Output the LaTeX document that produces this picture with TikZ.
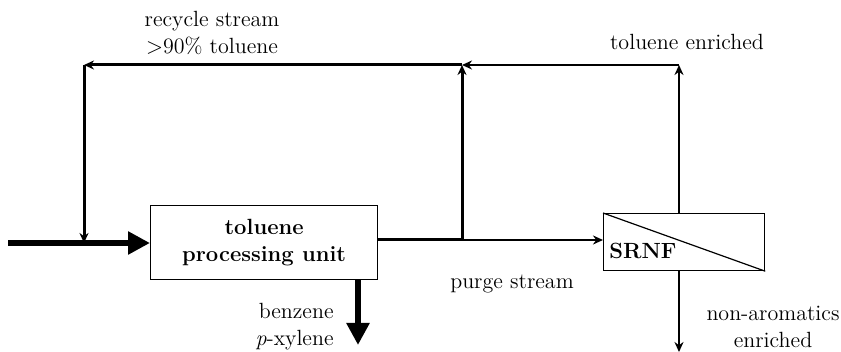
\documentclass[tikz,border=0pt]{standalone}
\usetikzlibrary{arrows.meta}
\begin{document}
\begin{tikzpicture}[x=0.5pt,y=-0.5pt,
  lbl/.style={font=\fontsize{11}{13.5}\selectfont, inner sep=0pt, align=center},
  unit/.style={draw, line width=0.6pt, inner sep=0pt},
  heavy/.style={line width=3pt, -{Triangle[length=11pt,width=11pt]}},
  mid/.style={line width=1.5pt},
  thin/.style={line width=0.9pt},
  sarrow/.style={-{Stealth[length=5pt,width=4.5pt]}}]
\useasboundingbox (0,0) rectangle (841,352);
% boxes
\node[unit, minimum width=113.5pt, minimum height=37pt, anchor=north west,
      font=\fontsize{11}{13.5}\selectfont\bfseries, align=center] (tpu) at (150,205) {toluene\\processing unit};
\node[unit, minimum width=80.5pt, minimum height=28.5pt, anchor=north west] (srnf) at (603,213) {};
\draw[line width=0.6pt] (srnf.north west) -- (srnf.south east);
\node[font=\fontsize{11}{13.5}\selectfont\bfseries, anchor=west, inner sep=0pt] (srnft) at (609,251) {SRNF};
% coordinates
\coordinate (feed) at (8,243);
\coordinate (tin) at (150,243);
\coordinate (join) at (84,243);
\coordinate (tl) at (84,65);
\coordinate (split) at (462,240);
\coordinate (tm) at (462,65);
\coordinate (tr) at (679,65);
\coordinate (sout) at (679,352);
\coordinate (bout) at (358,345);
% feed
\draw[heavy] (feed) -- (tpu.west |- tin);
% benzene
\draw[heavy] (tpu.south -| bout) -- (bout);
% product line
\draw[mid] (tpu.east |- split) -- (split);
\draw[thin, sarrow] (split) -- (srnf.west |- split);
% recycle riser
\draw[mid, sarrow] (split) -- (tm);
\draw[mid, sarrow] (tm) -- (tl);
\draw[mid, sarrow] (tl) -- (join);
% SRNF permeate
\draw[thin, sarrow] (srnf.north -| tr) -- (tr);
\draw[thin, sarrow] (tr) -- (tm);
% SRNF retentate
\draw[thin, sarrow] (srnf.south -| sout) -- (sout);
% labels
\node[lbl] (l1) at (212,33) {recycle stream\\$>$90\% toluene};
\node[lbl] (l2) at (687,42) {toluene enriched};
\node[lbl] (l3) at (512,284) {purge stream};
\node[lbl, align=right, anchor=east] (l4) at (334,327) {benzene\\\textit{p}-xylene};
\node[lbl] (l5) at (773,327) {non-aromatics\\enriched};
\end{tikzpicture}
\end{document}
